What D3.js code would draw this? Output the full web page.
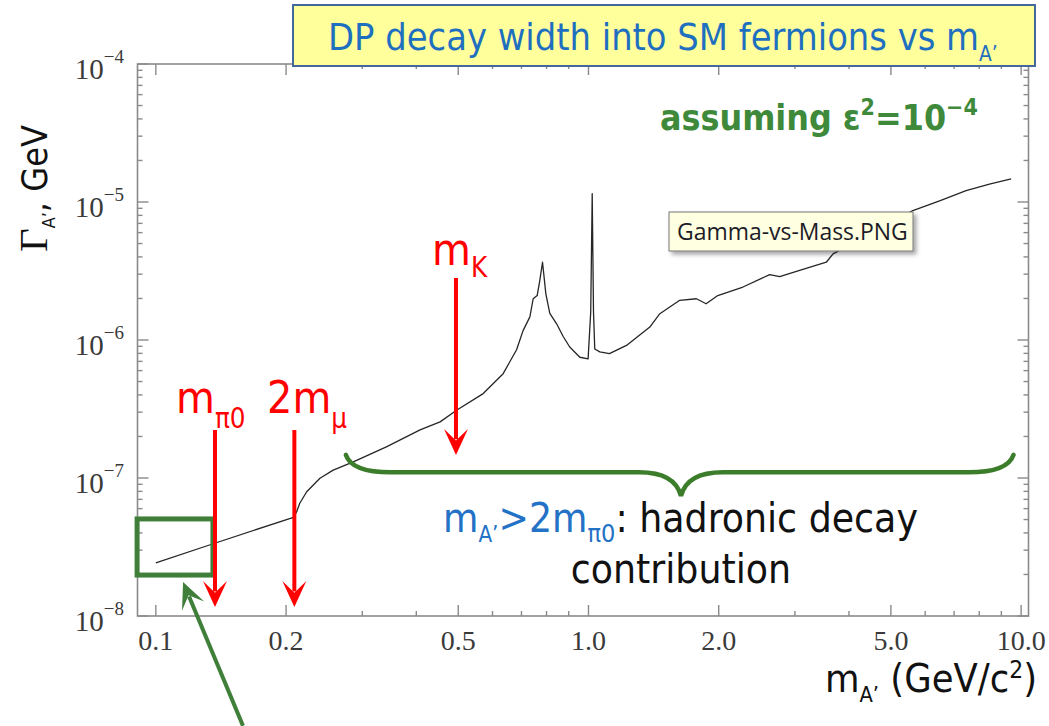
<!DOCTYPE html>
<html>
<head>
<meta charset="utf-8">
<script src="https://cdn.jsdelivr.net/npm/d3@7"></script>
<style>
  html, body { margin: 0; padding: 0; background: #fff; }
  svg { display: block; }
</style>
</head>
<body>
<div id="chart"></div>
<script>
// Curve: dark photon width vs mass (GeV)
const massGeV = [0.100, 0.133, 0.208, 0.2116, 0.2151, 0.2232, 0.2395, 0.257, 0.286, 0.342,
  0.408, 0.454, 0.4955, 0.571, 0.635, 0.682, 0.706, 0.732, 0.745, 0.761,
  0.772, 0.783, 0.797, 0.814, 0.844, 0.874, 0.905, 0.955, 0.998, 1.012,
  1.020, 1.027, 1.034, 1.062, 1.118, 1.224, 1.386, 1.462, 1.625, 1.776,
  1.87, 1.99, 2.275, 2.623, 2.766, 3.076, 3.546, 3.675, 5.62, 6.48,
  7.46, 8.45, 9.48];
const widthGeV = [2.43e-8, 3.27e-8, 5.19e-8, 5.7e-8, 6.56e-8, 7.95e-8, 9.95e-8, 1.14e-7, 1.31e-7, 1.69e-7,
  2.23e-7, 2.55e-7, 3.1e-7, 4.09e-7, 5.7e-7, 8.5e-7, 1.17e-6, 1.47e-6, 1.99e-6, 2.1e-6,
  2.72e-6, 3.66e-6, 2.16e-6, 1.56e-6, 1.31e-6, 1.06e-6, 8.9e-7, 7.5e-7, 7.3e-7, 1.6e-6,
  1.15e-5, 1.6e-6, 8.6e-7, 8.2e-7, 7.96e-7, 9.14e-7, 1.24e-6, 1.55e-6, 1.94e-6, 1.99e-6,
  1.83e-6, 2.1e-6, 2.42e-6, 2.98e-6, 2.88e-6, 3.19e-6, 3.66e-6, 4.21e-6, 8.67e-6, 1.02e-5,
  1.21e-5, 1.35e-5, 1.47e-5];

const xTickValues = [0.1, 0.2, 0.5, 1, 2, 5, 10];
const xTickLabels = ['0.1', '0.2', '0.5', '1.0', '2.0', '5.0', '10.0'];
const yTickExponents = [-4, -5, -6, -7, -8];

// Threshold arrows (red): mass, top of arrow, tip of arrow
const markerMass = [0.137, 0.209, 0.494];
const markerTop = [2.23e-7, 2.23e-7, 2.81e-6];
const markerTip = [1.16e-8, 1.16e-8, 1.47e-7];

// Green annotations (data units)
const zoomBoxMass = [0.0905, 0.1355];
const zoomBoxWidth = [1.98e-8, 5.05e-8];
const pointerFrom = [0.159, 1.6e-9];
const pointerTo = [0.1156, 1.76e-8];
const braceMass = [0.275, 1.636, 9.6];
const braceWidth = [1.47e-7, 1.1e-7, 7.4e-8];

const W = 1049, H = 726;
const SANS = "'DejaVu Sans Condensed', 'Noto Sans', sans-serif";
const SERIF = "'Liberation Serif', 'DejaVu Serif', serif";

const svg = d3.select('#chart').append('svg')
  .attr('width', W).attr('height', H)
  .attr('viewBox', `0 0 ${W} ${H}`);

const defs = svg.append('defs');
const shadow = defs.append('filter').attr('id', 'tipShadow')
  .attr('x', '-10%').attr('y', '-20%').attr('width', '130%').attr('height', '160%');
shadow.append('feDropShadow').attr('dx', 3).attr('dy', 3).attr('stdDeviation', 2)
  .attr('flood-color', '#000').attr('flood-opacity', 0.35);

const x = d3.scaleLog().domain([0.0907, 10.4]).range([137.5, 1028.5]);
const y = d3.scaleLog().domain([1e-8, 1e-4]).range([616, 64]);

const axisColor = '#8a8a8a';
const [x0, x1] = x.range();
const [yb, yt] = y.range();

// frame
svg.append('rect')
  .attr('x', x0).attr('y', yt).attr('width', x1 - x0).attr('height', yb - yt)
  .attr('fill', 'none').attr('stroke', axisColor).attr('stroke-width', 1.6);

// x ticks (both bottom and top, inward)
const xTicks = [];
[0.1, 1].forEach(d => { for (let k = 1; k <= 9; k++) xTicks.push(k * d); });
xTicks.push(10);
const xt = svg.append('g').attr('stroke', axisColor).attr('stroke-width', 1.4);
xTicks.forEach(v => {
  const px = x(v);
  const len = xTickValues.some(t => Math.abs(t - v) < 1e-9) ? 11 : 5;
  xt.append('line').attr('x1', px).attr('x2', px).attr('y1', yb).attr('y2', yb - len);
  xt.append('line').attr('x1', px).attr('x2', px).attr('y1', yt).attr('y2', yt + len);
});

// y ticks (left and right, inward)
const yTicks = [];
for (let e = -8; e <= -5; e++) for (let k = 1; k <= 9; k++) yTicks.push(k * Math.pow(10, e));
yTicks.push(1e-4);
const yt2 = svg.append('g').attr('stroke', axisColor).attr('stroke-width', 1.4);
yTicks.forEach(v => {
  const py = y(v);
  const mant = v / Math.pow(10, Math.floor(Math.log10(v) + 1e-9));
  const len = Math.abs(mant - 1) < 1e-6 ? 11 : 5;
  yt2.append('line').attr('x1', x0).attr('x2', x0 + len).attr('y1', py).attr('y2', py);
  yt2.append('line').attr('x1', x1).attr('x2', x1 - len).attr('y1', py).attr('y2', py);
});

// x tick labels
svg.append('g').selectAll('text')
  .data(xTickValues)
  .enter().append('text')
  .attr('x', d => x(d))
  .attr('y', 650)
  .attr('text-anchor', 'middle')
  .style('font-family', SERIF).style('font-size', '28px').style('fill', '#3a3a3a')
  .text((d, i) => xTickLabels[i]);

// y tick labels 10^e
yTickExponents.forEach(e => {
  const t = svg.append('text')
    .attr('x', 124).attr('y', y(Math.pow(10, e)) + 15)
    .attr('text-anchor', 'end')
    .style('font-family', SERIF).style('font-size', '29px').style('fill', '#3a3a3a');
  t.append('tspan').text('10');
  t.append('tspan').text('\u2212' + Math.abs(e)).style('font-size', '19px').attr('dy', -16);
});

// helper for text with sub/superscripts; shift is in units of the parent font size
function rich(parent, parts) {
  const t = parent.append('text');
  let cur = 0;
  parts.forEach(p => {
    const scale = p.scale || 1, shift = p.shift || 0;
    const ts = t.append('tspan').text(p.t).style('font-size', scale + 'em');
    const d = (shift - cur) / scale;
    if (Math.abs(d) > 1e-9) ts.attr('dy', d + 'em');
    if (p.fill) ts.style('fill', p.fill);
    if (p.family) ts.style('font-family', p.family);
    cur = shift;
  });
  return t;
}
function fitWidth(t, w) {
  const fs = parseFloat(t.style('font-size'));
  const bw = t.node().getComputedTextLength();
  t.style('font-size', (fs * w / bw) + 'px');
  return fs * w / bw;
}

// the curve
const curve = d3.line().x(d => x(d[0])).y(d => y(d[1]));
svg.append('path')
  .datum(massGeV.map((m, i) => [m, widthGeV[i]]))
  .attr('d', curve)
  .attr('fill', 'none').attr('stroke', '#262626').attr('stroke-width', 1.3)
  .attr('stroke-linejoin', 'round');

// green zoom box
const green = '#3f7f3a';
svg.append('rect')
  .attr('x', x(zoomBoxMass[0])).attr('y', y(zoomBoxWidth[1]))
  .attr('width', x(zoomBoxMass[1]) - x(zoomBoxMass[0]))
  .attr('height', y(zoomBoxWidth[0]) - y(zoomBoxWidth[1]))
  .attr('fill', 'none').attr('stroke', green).attr('stroke-width', 5);

// arrow helper
function arrow(g, ax, ay, bx, by, color, w, hl, hw) {
  const ang = Math.atan2(by - ay, bx - ax);
  const ex = bx - Math.cos(ang) * hl * 0.6, ey = by - Math.sin(ang) * hl * 0.6;
  g.append('line').attr('x1', ax).attr('y1', ay).attr('x2', ex).attr('y2', ey)
    .attr('stroke', color).attr('stroke-width', w);
  const deg = ang * 180 / Math.PI;
  g.append('path')
    .attr('d', `M0,0 L${-hl},${-hw} L${-hl * 0.55},0 L${-hl},${hw} Z`)
    .attr('transform', `translate(${bx},${by}) rotate(${deg})`)
    .attr('fill', color);
}

// green pointer arrow
arrow(svg, x(pointerFrom[0]), y(pointerFrom[1]), x(pointerTo[0]), y(pointerTo[1]), green, 4, 26, 12);

// green brace
const bl = x(braceMass[0]), bc = x(braceMass[1]), br = x(braceMass[2]);
const bEnd = y(braceWidth[0]), bMid = y(braceWidth[1]), bTip = y(braceWidth[2]);
svg.append('path')
  .attr('d', `M${bl},${bEnd} Q${bl + 6},${bMid} ${bl + 45},${bMid} L${bc - 42},${bMid}` +
    ` Q${bc - 6},${bMid} ${bc},${bTip} Q${bc + 6},${bMid} ${bc + 42},${bMid}` +
    ` L${br - 45},${bMid} Q${br - 6},${bMid} ${br},${bEnd}`)
  .attr('fill', 'none').attr('stroke', '#3b7d2a').attr('stroke-width', 4.5)
  .attr('stroke-linecap', 'round');

// red threshold arrows
const red = '#ff0000';
markerMass.forEach((m, i) => {
  arrow(svg, x(m), y(markerTop[i]), x(m), y(markerTip[i]), red, 4, 26, 12);
});

// red labels
const lblMu = rich(svg, [{ t: '2m' }, { t: '\u03bc', scale: 0.62, shift: 0.33 }])
  .attr('x', 267).attr('y', 413)
  .style('font-family', SANS).style('font-size', '36px').style('fill', red);
const redSize = fitWidth(lblMu, 80);
rich(svg, [{ t: 'm' }, { t: '\u03c00', scale: 0.62, shift: 0.33 }])
  .attr('x', 176).attr('y', 413)
  .style('font-family', SANS).style('font-size', redSize + 'px').style('fill', red);
rich(svg, [{ t: 'm' }, { t: 'K', scale: 0.62, shift: 0.28 }])
  .attr('x', 432).attr('y', 265)
  .style('font-family', SANS).style('font-size', redSize + 'px').style('fill', red);

// hadronic contribution text
const blue = '#2372c6';
const had = rich(svg, [
  { t: 'm', fill: blue }, { t: 'A\u2019', scale: 0.55, shift: 0.25, fill: blue },
  { t: '>2m', fill: blue }, { t: '\u03c00', scale: 0.62, shift: 0.25, fill: blue },
  { t: ': hadronic decay', fill: '#111' }
]).attr('x', 443).attr('y', 532)
  .style('font-family', SANS).style('font-size', '32px');
const hadSize = fitWidth(had, 475);
svg.append('text')
  .attr('x', bc).attr('y', 583).attr('text-anchor', 'middle')
  .style('font-family', SANS).style('font-size', hadSize + 'px').style('fill', '#111')
  .text('contribution');

// assuming eps^2 = 10^-4
const assum = rich(svg, [
  { t: 'assuming \u03b5' }, { t: '2', scale: 0.65, shift: -0.42 },
  { t: '=10' }, { t: '\u22124', scale: 0.65, shift: -0.42 }
]).attr('x', 660).attr('y', 130)
  .style('font-family', SANS).style('font-weight', 'bold').style('font-size', '32px')
  .style('fill', '#3f8a3a');
fitWidth(assum, 318);

// tooltip-like file label
svg.append('rect')
  .attr('x', 669).attr('y', 212).attr('width', 244).attr('height', 39)
  .attr('fill', '#ffffe1').attr('stroke', '#767676').attr('stroke-width', 1)
  .attr('filter', 'url(#tipShadow)');
const tip = svg.append('text')
  .attr('x', 677).attr('y', 240)
  .style('font-family', "'Open Sans', 'Noto Sans', sans-serif").style('font-size', '22px')
  .style('fill', '#1c1c28')
  .text('Gamma-vs-Mass.PNG');
fitWidth(tip, 231);

// title box
svg.append('rect')
  .attr('x', 293).attr('y', 5).attr('width', 742).attr('height', 61)
  .attr('fill', '#ffff9c').attr('stroke', '#45689a').attr('stroke-width', 2);
const title = rich(svg, [
  { t: 'DP decay width into SM fermions vs m' },
  { t: 'A\u2019', scale: 0.55, shift: 0.3 }
]).attr('x', 328).attr('y', 50)
  .style('font-family', SANS).style('font-size', '34px').style('fill', '#1f6fc0');
fitWidth(title, 670);

// y axis label (rotated)
const yl = rich(svg, [
  { t: '\u0393', scale: 1.15, family: SERIF },
  { t: 'A\u2019', scale: 0.5, shift: 0.22 },
  { t: ', GeV' }
]).attr('transform', 'translate(47,252) rotate(-90)')
  .style('font-family', SANS).style('font-size', '40px').style('fill', '#111');
fitWidth(yl, 127);

// x axis label
const xl = rich(svg, [
  { t: 'm' }, { t: 'A\u2019', scale: 0.55, shift: 0.25 },
  { t: ' (GeV/c' }, { t: '2', scale: 0.62, shift: -0.35 }, { t: ')' }
]).attr('x', 825).attr('y', 692)
  .style('font-family', SANS).style('font-size', '32px').style('fill', '#111');
fitWidth(xl, 212);
</script>
</body>
</html>
